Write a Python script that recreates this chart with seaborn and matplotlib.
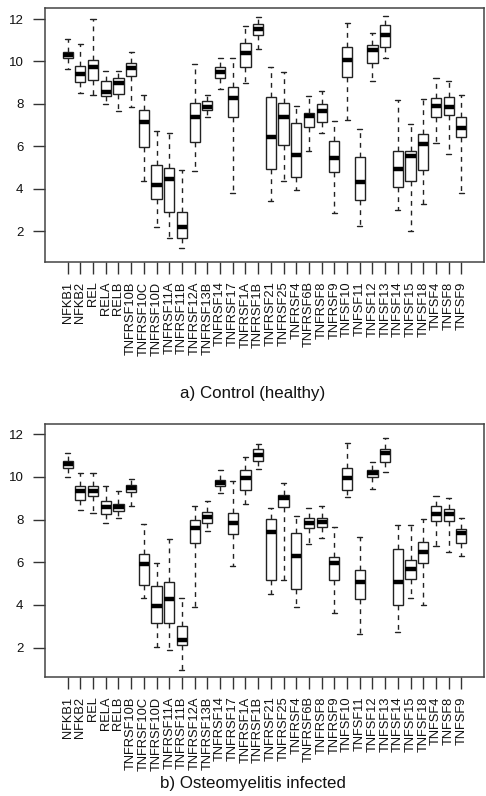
import matplotlib
matplotlib.use("Agg")
import matplotlib.pyplot as plt
import numpy as np
import pandas as pd
import seaborn as sns

GENES = ["NFKB1", "NFKB2", "REL", "RELA", "RELB", "TNFRSF10B", "TNFRSF10C",
         "TNFRSF10D", "TNFRSF11A", "TNFRSF11B", "TNFRSF12A", "TNFRSF13B",
         "TNFRSF14", "TNFRSF17", "TNFRSF1A", "TNFRSF1B", "TNFRSF21", "TNFRSF25",
         "TNFRSF4", "TNFRSF6B", "TNFRSF8", "TNFRSF9", "TNFSF10", "TNFSF11",
         "TNFSF12", "TNFSF13", "TNFSF14", "TNFSF15", "TNFSF18", "TNFSF4",
         "TNFSF8", "TNFSF9"]

# a) control (healthy): whisker low, Q1, median, Q3, whisker high
CTRL_LO = [9.64, 8.52, 8.41, 7.99, 7.66, 7.86, 4.37, 2.20, 1.69, 1.18, 4.85, 7.39,
           8.68, 3.81, 9.00, 10.57, 3.41, 4.36, 3.93, 5.79, 6.64, 2.83, 7.24, 2.24,
           9.08, 10.14, 2.99, 2.00, 3.27, 6.17, 5.63, 3.81]
CTRL_Q1 = [10.15, 9.04, 9.12, 8.38, 8.46, 9.31, 5.98, 3.49, 2.91, 1.69, 6.21, 7.71,
           9.20, 7.36, 9.72, 11.25, 4.92, 6.06, 4.53, 6.92, 7.16, 4.77, 9.25, 3.46,
           9.94, 10.69, 4.06, 4.36, 4.88, 7.36, 7.47, 6.45]
CTRL_MED = [10.30, 9.40, 9.75, 8.57, 8.97, 9.67, 7.16, 4.17, 4.45, 2.20, 7.39, 7.86,
            9.52, 8.26, 10.38, 11.53, 6.45, 7.39, 5.58, 7.42, 7.66, 5.46, 10.07, 4.33,
            10.54, 11.25, 4.92, 5.55, 6.09, 7.90, 7.83, 6.87]
CTRL_Q3 = [10.45, 9.80, 10.07, 9.09, 9.20, 9.91, 7.71, 5.11, 4.96, 2.91, 8.02, 8.13,
           9.75, 8.81, 10.85, 11.75, 8.34, 8.05, 7.11, 7.58, 7.99, 6.26, 10.69, 5.51,
           10.77, 11.72, 5.77, 5.77, 6.56, 8.26, 8.32, 7.38]
CTRL_HI = [11.04, 10.80, 12.00, 9.56, 9.56, 10.46, 8.41, 6.72, 6.64, 4.88, 9.88, 8.41,
           10.14, 10.14, 11.67, 12.11, 9.75, 9.52, 7.90, 8.37, 8.62, 7.19, 11.83, 6.80,
           11.32, 12.16, 8.18, 7.03, 8.23, 9.20, 9.09, 8.41]

# b) osteomyelitis infected
INF_LO = [10.00, 8.44, 8.32, 7.85, 8.05, 8.63, 4.31, 2.05, 1.89, 0.95, 3.92, 7.48,
          9.25, 5.82, 8.72, 10.36, 4.50, 5.17, 3.92, 6.85, 7.12, 3.64, 9.04, 2.64,
          9.41, 10.24, 2.72, 4.31, 4.00, 6.76, 6.46, 6.29]
INF_Q1 = [10.39, 8.91, 9.10, 8.24, 8.40, 9.30, 4.93, 3.14, 3.14, 2.13, 6.88, 7.85,
          9.57, 7.30, 9.38, 10.75, 5.17, 8.60, 4.75, 7.59, 7.63, 5.17, 9.38, 4.26,
          9.97, 10.71, 4.00, 5.21, 5.95, 7.93, 7.93, 6.88]
INF_MED = [10.58, 9.35, 9.35, 8.57, 8.57, 9.46, 5.90, 3.95, 4.26, 2.36, 7.62, 8.10,
           9.72, 7.82, 9.93, 11.02, 7.40, 8.99, 6.29, 7.82, 7.87, 5.98, 9.96, 5.06,
           10.19, 11.13, 5.06, 5.68, 6.46, 8.26, 8.24, 7.35]
INF_Q3 = [10.74, 9.57, 9.57, 8.86, 8.71, 9.61, 6.37, 4.90, 5.09, 3.03, 8.00, 8.33,
          9.85, 8.29, 10.32, 11.28, 8.02, 9.15, 7.35, 8.05, 8.05, 6.23, 10.42, 5.64,
          10.32, 11.28, 6.60, 6.10, 6.96, 8.63, 8.49, 7.55]
INF_HI = [11.10, 10.19, 10.19, 9.57, 9.35, 9.89, 7.77, 5.98, 7.07, 4.31, 8.63, 8.86,
          10.32, 9.80, 10.91, 11.53, 8.55, 9.69, 8.16, 8.52, 8.65, 7.66, 11.59, 7.20,
          10.71, 11.80, 7.74, 7.74, 8.01, 9.10, 9.02, 8.05]

TITLES = ["a) Control (healthy)", "b) Osteomyelitis infected"]
YTICKS = [2, 4, 6, 8, 10, 12]


def long_frame(lo, q1, med, q3, hi):
    # five points per gene reproduce the five-number summary exactly
    rows = []
    for g, *vals in zip(GENES, lo, q1, med, q3, hi):
        rows += [(g, v) for v in vals]
    return pd.DataFrame(rows, columns=["gene", "value"])


sns.set_style("white")
plt.rcParams["font.family"] = ["Liberation Sans", "DejaVu Sans"]

fig = plt.figure(figsize=(4.86, 7.96), dpi=100)
# axes rectangles measured in pixels from the reference (left, top, right, bottom)
rects = [(45, 8, 484, 262), (45, 424, 484, 677)]
ylims = [(0.54, 12.52), (0.63, 12.47)]
title_y = [398, 788]
panels = [(CTRL_LO, CTRL_Q1, CTRL_MED, CTRL_Q3, CTRL_HI),
          (INF_LO, INF_Q1, INF_MED, INF_Q3, INF_HI)]

W, H = 486, 796
for (l, t, r, b), ylim, ty, title, vals in zip(rects, ylims, title_y, TITLES, panels):
    ax = fig.add_axes([l / W, 1 - b / H, (r - l) / W, (b - t) / H])
    df = long_frame(*vals)
    sns.boxplot(data=df, x="gene", y="value", order=GENES, ax=ax,
                color="white", linecolor="#222222", linewidth=1.0, width=0.8,
                whis=(0, 100), fliersize=0,
                medianprops={"color": "black", "linewidth": 3.2, "solid_capstyle": "butt"},
                whiskerprops={"linestyle": (0, (3.5, 3.5)), "linewidth": 1.0},
                capprops={"linewidth": 1.0})
    ax.set_xlim(-1.78, 32.78)
    ax.set_ylim(*ylim)
    ax.set_yticks(YTICKS)
    ax.set_xlabel("")
    ax.set_ylabel("")
    ax.set_xticks(range(len(GENES)))
    ax.set_xticklabels(GENES, rotation=90, fontsize=9.3)
    ax.tick_params(axis="both", direction="out", length=8.5, width=1.0,
                   color="#333333", labelcolor="#111111")
    ax.tick_params(axis="x", pad=5.5)
    ax.tick_params(axis="y", pad=7, labelsize=9.5)
    ax.tick_params(bottom=True, left=True)
    for s in ax.spines.values():
        s.set_visible(True)
        s.set_color("#444444")
        s.set_linewidth(1.1)
    fig.text(0.52, 1 - ty / H, title, ha="center", va="baseline",
             fontsize=12.2, color="#111111")

fig.savefig("out.png", dpi=100)
